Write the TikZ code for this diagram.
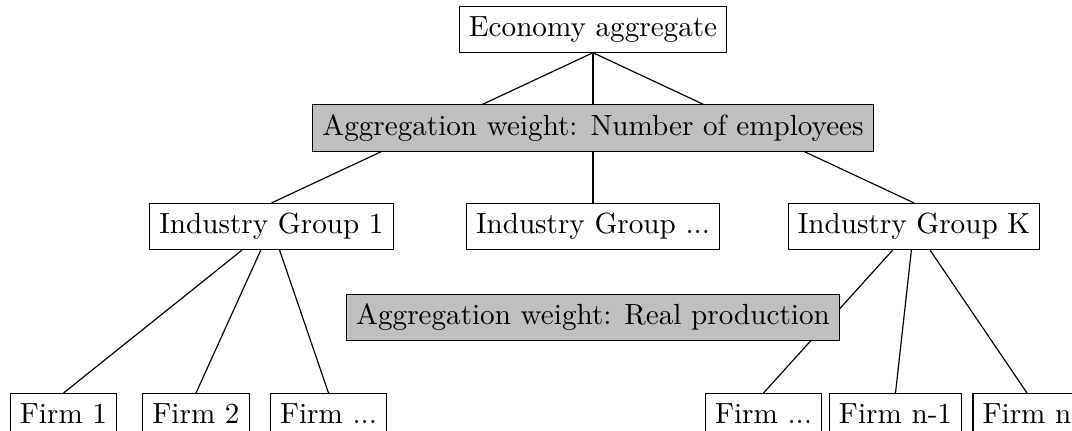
\documentclass[tikz,border=0pt]{standalone}
\usepackage{tikz}

\begin{document}
\begin{tikzpicture}[x=0.343pt, y=-0.343pt,
  entity/.style={draw, fill=white},
  weightbox/.style={draw, fill=lightgray}]
\useasboundingbox (0,0) rectangle (1072,430);
\clip (0,0) rectangle (1072,430);
% levels
\node[entity] (econ) at (593,29.5) {Economy aggregate};
\node[entity] (ig1) at (271.5,226.5) {Industry Group 1};
\node[entity] (igm) at (593,226.5) {Industry Group ...};
\node[entity] (igk) at (914,226.5) {Industry Group K};
\node[entity, anchor=north] (f1) at (63.5,393) {Firm 1};
\node[entity, anchor=north] (f2) at (196,393) {Firm 2};
\node[entity, anchor=north] (fa) at (328.5,393) {Firm ...};
\node[entity, anchor=north] (fb) at (763.5,393) {Firm ...};
\node[entity, anchor=north] (fn1) at (895.5,393) {Firm n-1};
\node[entity, anchor=north] (fn) at (1027,393) {Firm n};
% edges
\draw (econ.south) -- (ig1.north);
\draw (econ.south) -- (igm.north);
\draw (econ.south) -- (igk.north);
\draw (ig1) -- (f1.north);
\draw (ig1) -- (f2.north);
\draw (ig1) -- (fa.north);
\draw (igk) -- (fb.north);
\draw (igk) -- (fn1.north);
\draw (igk) -- (fn.north);
% weights on top
\node[weightbox] (wemp) at (593,128) {Aggregation weight: Number of employees};
\node[weightbox] (wprod) at (593,317.5) {Aggregation weight: Real production};
\end{tikzpicture}
\end{document}
